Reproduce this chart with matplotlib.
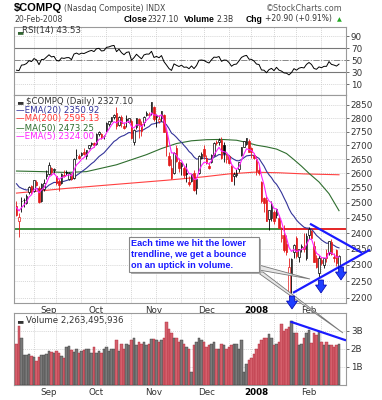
# Nasdaq Composite daily candles, Aug 2007 - Feb 2008, StockCharts style
import numpy as np
import pandas as pd
import matplotlib
matplotlib.use('Agg')
import matplotlib.pyplot as plt
from matplotlib.patches import Polygon
from matplotlib.ticker import NullLocator

# ---- data -------------------------------------------------------------
holidays = ['2007-09-03', '2007-11-22', '2007-12-25', '2008-01-01',
            '2008-01-21', '2008-02-18']
dates = pd.bdate_range('2007-08-15', '2008-02-20').drop(pd.to_datetime(holidays))

prev_close = 2499.12
opens = [2490, 2440, 2505, 2507, 2500, 2535, 2557, 2540, 2570, 2550, 2505, 2545, 2590,
         2598, 2618, 2610, 2590, 2575, 2565, 2595, 2603, 2580, 2595, 2585, 2665, 2660,
         2665, 2675, 2660, 2690, 2705, 2708,
         2705, 2742, 2742, 2732, 2755, 2778, 2790, 2805, 2820, 2775, 2805, 2770, 2795,
         2785, 2790, 2710, 2765, 2795, 2778, 2785, 2810, 2810, 2820,
         2840, 2805, 2790, 2800, 2810, 2750, 2660, 2620, 2600, 2690, 2640, 2625, 2620,
         2600, 2570, 2575, 2600, 2550, 2600, 2655, 2685,
         2655, 2625, 2640, 2665, 2712, 2710, 2720, 2700, 2650, 2660, 2625, 2590, 2595,
         2615, 2665, 2695, 2705, 2715, 2690, 2665,
         2650, 2612, 2570, 2515, 2510, 2445, 2450, 2470, 2460, 2450, 2385, 2395, 2365,
         2215, 2270, 2340, 2385, 2325, 2355, 2355, 2320,
         2395, 2405, 2360, 2320, 2275, 2315, 2300, 2335, 2335, 2370, 2325, 2345, 2290]
highs = [2505, 2465, 2520, 2515, 2530, 2555, 2560, 2578, 2576, 2555, 2566, 2580, 2610,
         2640, 2622, 2620, 2592, 2580, 2600, 2610, 2612, 2605, 2600, 2655, 2685, 2670,
         2675, 2690, 2684, 2702, 2712, 2712,
         2745, 2752, 2745, 2738, 2785, 2790, 2805, 2815, 2840, 2808, 2810, 2785, 2810,
         2802, 2795, 2760, 2800, 2800, 2790, 2808, 2825, 2822, 2861,
         2845, 2815, 2810, 2825, 2815, 2760, 2675, 2650, 2675, 2700, 2655, 2640, 2625,
         2635, 2590, 2597, 2610, 2582, 2665, 2675, 2700,
         2665, 2640, 2668, 2710, 2720, 2725, 2730, 2712, 2672, 2665, 2630, 2605, 2615,
         2641, 2692, 2715, 2725, 2722, 2695, 2672,
         2662, 2625, 2572, 2520, 2525, 2475, 2505, 2475, 2480, 2460, 2420, 2425, 2395,
         2320, 2320, 2365, 2390, 2350, 2365, 2400, 2400,
         2420, 2410, 2375, 2330, 2330, 2325, 2322, 2350, 2375, 2380, 2335, 2350, 2330]
lows = [2455, 2386, 2470, 2485, 2495, 2530, 2528, 2535, 2555, 2499, 2502, 2540, 2580,
        2595, 2595, 2598, 2560, 2540, 2563, 2588, 2595, 2578, 2578, 2580, 2650, 2650,
        2660, 2665, 2650, 2685, 2698, 2695,
        2700, 2735, 2722, 2722, 2750, 2772, 2785, 2795, 2760, 2770, 2765, 2758, 2765,
        2780, 2722, 2700, 2760, 2725, 2735, 2770, 2808, 2805, 2812,
        2790, 2765, 2780, 2790, 2748, 2660, 2625, 2580, 2598, 2640, 2605, 2595, 2585,
        2570, 2555, 2570, 2540, 2530, 2598, 2650, 2650,
        2632, 2615, 2635, 2660, 2700, 2700, 2650, 2640, 2635, 2632, 2572, 2560, 2588,
        2605, 2660, 2692, 2700, 2675, 2655, 2650,
        2595, 2595, 2500, 2470, 2440, 2410, 2440, 2430, 2450, 2415, 2370, 2340, 2330,
        2202, 2210, 2320, 2320, 2310, 2340, 2340, 2315,
        2380, 2380, 2308, 2290, 2262, 2298, 2290, 2310, 2330, 2330, 2310, 2295, 2285]
closes = [2458.83, 2451.07, 2505.03, 2508.59, 2521.30, 2552.80, 2541.70, 2576.69,
          2561.25, 2500.64, 2563.16, 2565.30, 2596.36,
          2630.24, 2605.95, 2614.32, 2565.70, 2559.11, 2597.97, 2592.07, 2601.06,
          2602.18, 2581.66, 2651.66, 2666.48, 2654.29, 2671.22, 2667.95, 2683.45,
          2699.03, 2709.59, 2701.50,
          2740.99, 2747.11, 2729.43, 2733.73, 2780.32, 2787.37, 2803.91, 2811.61,
          2772.20, 2805.68, 2780.05, 2763.91, 2792.67, 2799.31, 2725.16, 2753.93,
          2799.26, 2774.76, 2750.86, 2804.19, 2817.29, 2816.71, 2859.12,
          2794.83, 2810.38, 2795.18, 2825.18, 2748.76, 2696.00, 2627.94, 2584.13,
          2673.65, 2644.29, 2618.51, 2637.24, 2593.38, 2596.81, 2562.15, 2596.60,
          2540.99, 2580.80, 2662.91, 2668.13, 2660.96,
          2637.13, 2619.83, 2666.36, 2709.03, 2706.16, 2718.95, 2652.35, 2671.14,
          2668.49, 2635.74, 2574.46, 2596.03, 2601.01, 2640.86, 2691.99, 2713.50,
          2724.41, 2676.79, 2674.46, 2652.28,
          2609.63, 2602.68, 2504.65, 2499.46, 2440.51, 2474.55, 2488.52, 2439.94,
          2478.30, 2417.59, 2394.59, 2346.90, 2340.02, 2292.27, 2316.41, 2360.92,
          2326.20, 2349.91, 2358.06, 2349.00, 2389.86,
          2413.36, 2382.85, 2309.57, 2293.03, 2320.04, 2304.85, 2320.06, 2320.04,
          2373.93, 2332.54, 2321.80, 2306.20, 2327.10]
volume_b = [2.3, 3.3, 2.6, 1.65, 1.65, 1.75, 1.6, 1.55, 1.35, 1.55, 1.65, 1.65, 1.75,
            1.9, 1.85, 1.8, 1.9, 1.8, 1.6, 1.5, 2.1, 2.15, 1.95, 1.85, 2.0, 1.8, 1.9,
            1.95, 2.0, 2.0, 1.8, 2.1,
            1.8, 1.9, 1.8, 2.0, 2.1, 1.9, 2.0, 2.0, 2.5, 1.9, 2.3, 2.0, 2.3, 2.2, 2.5,
            2.6, 2.2, 2.4, 2.3, 2.4, 2.2, 2.3, 2.55,
            2.55, 2.5, 2.4, 2.5, 2.6, 3.5, 3.1, 2.9, 2.6, 2.6, 2.4, 2.5, 2.3, 2.1, 2.0,
            0.75, 2.2, 2.4, 2.6, 2.5, 2.4,
            2.1, 2.2, 2.3, 2.4, 2.0, 2.0, 2.3, 2.2, 2.0, 2.1, 2.2, 2.3, 2.3, 2.0, 2.5,
            0.75, 1.15, 1.4, 1.5, 1.7,
            2.0, 2.3, 2.5, 2.6, 2.6, 2.85, 2.6, 2.2, 2.3, 2.4, 3.4, 3.0, 3.1, 3.25, 3.55,
            2.9, 2.9, 2.2, 2.3, 2.6, 2.9,
            3.05, 2.35, 2.9, 2.8, 3.0, 2.4, 2.2, 2.4, 2.2, 2.2, 2.1, 2.2, 2.26]

# moving averages (bar index, value)
ma50_idx = [0, 10, 20, 28, 34, 40, 46, 52, 58, 64, 70, 76, 82, 88, 92, 96, 100, 104,
            108, 111, 114, 117, 121, 125, 129]
ma50_val = [2608, 2606, 2603, 2606, 2618, 2630, 2648, 2666, 2688, 2706, 2716, 2720,
            2721, 2718, 2710, 2700, 2694, 2686, 2670, 2648, 2625, 2600, 2570, 2530, 2473]
ma200_idx = [0, 20, 40, 60, 75, 85, 95, 105, 115, 129]
ma200_val = [2532, 2548, 2562, 2576, 2588, 2598, 2604, 2602, 2598, 2595]
ema20_seed = 2575.0
ema5_seed = 2495.0
rsi_gain_seed, rsi_loss_seed = 10.0, 17.0

support_level = 2414
lower_trend = ([110.6, 141.4], [2215, 2347])
upper_trend = ([117.4, 138.2], [2430, 2337])
vol_trend = ([110, 131.4], [3.5, 2.5])

price_ticks = list(range(2200, 2851, 50))
rsi_ticks = [10, 30, 50, 70, 90]
vol_ticks = [1, 2, 3]

# ---- indicators -------------------------------------------------------
ema20 = pd.Series(np.r_[ema20_seed, closes]).ewm(span=20, adjust=False).mean().values[1:]
ema5 = pd.Series(np.r_[ema5_seed, closes]).ewm(span=5, adjust=False).mean().values[1:]
chg = np.diff(np.r_[prev_close, closes])
g, l = rsi_gain_seed, rsi_loss_seed
rsi = []
for c in chg:
    g = (g * 13 + max(c, 0)) / 14
    l = (l * 13 + max(-c, 0)) / 14
    rsi.append(100 - 100 / (1 + g / l))

n = len(closes)
x = np.arange(n)
o, h, lo, c = map(np.array, (opens, highs, lows, closes))
down = c < np.r_[prev_close, c[:-1]]

# ---- figure -----------------------------------------------------------
W, H = 382, 400
fig = plt.figure(figsize=(W / 100, H / 100), dpi=100)
fig.patch.set_facecolor('white')


def axes_px(x0, y0, x1, y1):
    return fig.add_axes([x0 / W, 1 - y1 / H, (x1 - x0) / W, (y1 - y0) / H])


def ftxt(px, py, s, **kw):
    kw.setdefault('va', 'center')
    kw.setdefault('family', 'DejaVu Sans')
    return fig.text(px / W, 1 - py / H, s, **kw)


ax_r = axes_px(14, 27, 346, 95)
ax_p = axes_px(14, 95, 346, 303)
ax_v = axes_px(14, 313, 346, 385)

xlim = (-1, 131.8)
grid_x = [7, 16, 26, 36, 46, 56, 66, 75, 85, 94, 103, 112, 122]
grid_kw = dict(color='#c8c8c8', lw=0.5, ls=(0, (1.5, 1.5)), zorder=0)
month_pos = [i for i in range(1, n) if dates[i].month != dates[i - 1].month]
month_lab = ['2008' if dates[i].month == 1 else dates[i].strftime('%b') for i in month_pos]

for ax in (ax_r, ax_p, ax_v):
    ax.set_xlim(*xlim)
    for s in ax.spines.values():
        s.set_color('#9a9a9a')
        s.set_linewidth(0.8)
    ax.yaxis.tick_right()
    ax.tick_params(axis='y', labelsize=6.3, colors='#333333', length=2, width=0.5,
                   pad=1.5, labelcolor='#333333')
    for xv in grid_x:
        ax.axvline(xv, **grid_kw)
    ax.set_xticks(month_pos)
    ax.tick_params(axis='x', length=0, pad=2, labelsize=6.3, labelcolor='#333333')
    for lab in ax.get_yticklabels() + ax.get_xticklabels():
        lab.set_family('DejaVu Sans')

# RSI panel
ax_r.set_ylim(-8, 105)
ax_r.set_yticks(rsi_ticks)
ax_r.set_xticklabels([])
for yv in rsi_ticks:
    ax_r.axhline(yv, **grid_kw)
ax_r.axhline(70, color='#777777', lw=0.8, zorder=1)
ax_r.axhline(30, color='#777777', lw=0.8, zorder=1)
ax_r.axhline(50, color='#888888', lw=0.7, ls='-.', zorder=1)
ax_r.plot(x, rsi, color='black', lw=0.7, zorder=3)

# price panel
ax_p.set_yscale('log')
ax_p.set_ylim(2185, 2888)
ax_p.set_yticks(price_ticks)
ax_p.set_yticklabels([str(v) for v in price_ticks])
ax_p.yaxis.set_minor_locator(NullLocator())
ax_p.set_xticklabels(month_lab)
for yv in price_ticks:
    ax_p.axhline(yv, **grid_kw)

ax_p.plot([-1, 106.2], [support_level] * 2, color='#1f7a1f', lw=1.2, zorder=2)
ax_p.plot([106.2, xlim[1]], [support_level] * 2, color='#e00000', lw=1.2, zorder=2)
ax_p.plot(ma200_idx, ma200_val, color='#ff4040', lw=0.8, zorder=2)
ax_p.plot(ma50_idx, ma50_val, color='#2f6e2f', lw=0.8, zorder=2)
ax_p.plot(x, ema20, color='#333399', lw=0.8, zorder=2)

cols = np.where(down, '#e31a1a', 'black')
ax_p.vlines(x, lo, h, colors=cols, lw=0.6, zorder=3)
body_lo = np.minimum(o, c)
body_h = np.maximum(np.abs(c - o), 0.8)
faces = [col if cc < oo else 'white' for col, cc, oo in zip(cols, c, o)]
ax_p.bar(x, body_h, bottom=body_lo, width=0.75, color=faces, edgecolor=cols,
         linewidth=0.5, zorder=4)
ax_p.plot(x, ema5, color='#ff22ff', lw=0.8, zorder=5)

for xs, ys in (lower_trend, upper_trend):
    ax_p.plot(xs, ys, color='#1a1aff', lw=1.6, zorder=6, clip_on=False,
              solid_capstyle='butt')

# volume panel
ax_v.set_ylim(0, 4)
ax_v.set_yticks(vol_ticks)
ax_v.set_yticklabels([f'{v}B' for v in vol_ticks])
ax_v.set_xticklabels(month_lab)
for yv in vol_ticks:
    ax_v.axhline(yv, **grid_kw)
vface = np.where(down, '#d4606c', '#7a7a7a')
vedge = np.where(down, '#b02838', '#3a3a3a')
ax_v.bar(x, volume_b, width=0.9, color=vface, edgecolor=vedge, linewidth=0.3, zorder=3)
ax_v.plot(*vol_trend, color='#1a1aff', lw=1.6, zorder=5)

for ax in (ax_p, ax_v):
    for lab, m in zip(ax.get_xticklabels(), month_lab):
        lab.set_fontweight('bold' if m == '2008' else 'normal')
        lab.set_color('black' if m == '2008' else '#333333')

# ---- header texts -----------------------------------------------------
bold = dict(fontweight='bold', family='Liberation Sans', fontsize=6.2)
small = dict(fontsize=5.5, color='#333333')
ftxt(14, 8, '$COMPQ', fontsize=8, fontweight='bold', family='Liberation Sans')
ftxt(64, 8.5, '(Nasdaq Composite) INDX', fontsize=5.6, color='#444444')
ftxt(343, 8.5, '\u00a9StockCharts.com', fontsize=5.8, color='#555555', ha='right')
ftxt(14, 19, '20-Feb-2008', fontsize=5.6, color='#444444')
ftxt(124, 19, 'Close', **bold)
ftxt(147, 19, '2327.10', **small)
ftxt(184, 19, 'Volume', **bold)
ftxt(216, 19, '2.3B', **small)
ftxt(246, 19, 'Chg', **bold)
ftxt(265, 19, '+20.90 (+0.91%)', **small)
ftxt(337, 19.5, '\u25b2', fontsize=4.5, color='#22aa22')

ftxt(17, 31, '\u2583', fontsize=5, color='#336633')
ftxt(22, 31, 'RSI(14) 43.53', fontsize=6.2, color='#333333')
ftxt(17, 101, '\u2583', fontsize=5, color='#333333')
ftxt(26, 101, '$COMPQ (Daily) 2327.10', fontsize=6.2, color='#333333')
ftxt(16, 110, '\u2014EMA(20) 2350.92', fontsize=6.2, color='#333399')
ftxt(16, 119, '\u2014MA(200) 2595.13', fontsize=6.2, color='#ff3333')
ftxt(16, 128, '\u2014MA(50) 2473.25', fontsize=6.2, color='#2f6e2f')
ftxt(16, 137, '\u2014EMA(5) 2324.00', fontsize=6.2, color='#ff22ff')
ftxt(17, 320, '\u2583', fontsize=5, color='#333333')
ftxt(26, 320, 'Volume 2,263,495,936', fontsize=6.2, color='#333333')

# ---- annotation box, pointers and arrows ------------------------------


def fpoly(pts, **kw):
    p = Polygon([(px / W, 1 - py / H) for px, py in pts], closed=True,
                transform=fig.transFigure, **kw)
    fig.add_artist(p)


fpoly([(131, 239), (261, 239), (261, 274), (131, 274)], facecolor='#aaaaaa',
      edgecolor='none', zorder=10)
fpoly([(129, 237), (259, 237), (259, 272), (129, 272)], facecolor='white',
      edgecolor='#888888', lw=0.8, zorder=11)
for py, s in ((243.5, 'Each time we hit the lower'), (254.5, 'trendline, we get a bounce'),
              (265.5, 'on an uptick in volume.')):
    ftxt(131, py, s, fontsize=6.6, fontweight='bold', color='#1a1aff',
         family='Liberation Sans', zorder=12)

fpoly([(259, 265), (259, 270), (310, 279)], facecolor='#e6e6e6', edgecolor='#777777',
      lw=0.6, zorder=9)
fpoly([(257, 272), (263, 272), (343, 333)], facecolor='#e6e6e6', edgecolor='#777777',
      lw=0.6, zorder=9)

for cx, ty in ((292, 296), (321, 280), (341, 267)):
    fpoly([(cx - 2.5, ty), (cx + 2.5, ty), (cx + 2.5, ty + 5), (cx + 5.5, ty + 5),
           (cx, ty + 13), (cx - 5.5, ty + 5), (cx - 2.5, ty + 5)],
          facecolor='#1f3fff', edgecolor='#0000aa', lw=0.5, zorder=13)

fig.savefig('out.png', dpi=100, facecolor='white')
